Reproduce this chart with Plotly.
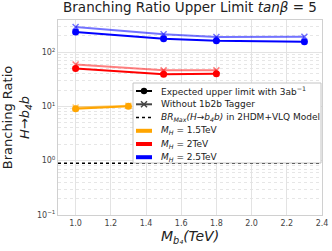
import plotly.graph_objects as go

# Data
x_15 = [1.0, 1.3]
exp_15 = [9.0, 10.0]
wo_15 = [9.5, 10.3]

x_20 = [1.0, 1.5, 1.8]
exp_20 = [50, 39, 40]
wo_20 = [59, 46, 46]

x_25 = [1.0, 1.5, 1.8, 2.3]
exp_25 = [234, 175, 162, 155]
wo_25 = [290, 212, 189, 192]

br_max = 0.9
x_range = [0.9, 2.4]

y_tickvals = [0.1, 1, 10, 100]
y_ticktext = ["10<sup>−1</sup>", "10<sup>0</sup>", "10<sup>1</sup>", "10<sup>2</sup>"]

legend_labels = [
    "Expected upper limit with 3ab<sup>−1</sup>",
    "Without 1b2b Tagger",
    "<i>BR<sub>Max</sub>(H→b<sub>4</sub>b)</i> in 2HDM+VLQ Model",
    "<i>M<sub>H</sub></i> = 1.5TeV",
    "<i>M<sub>H</sub></i> = 2TeV",
    "<i>M<sub>H</sub></i> = 2.5TeV",
]

colors = {"1.5": "#ffa500", "2": "#ff0000", "2.5": "#0000ff"}
faded = {"1.5": "rgba(255,165,0,0.55)", "2": "rgba(255,0,0,0.5)", "2.5": "rgba(0,0,255,0.55)"}

W, H = 332, 251
L, R, T, B = 58, 10, 20, 36
pw, ph = W - L - R, H - T - B


def px(X):
    return (X - L) / pw


def py(Y):
    return (H - B - Y) / ph


fig = go.Figure()

series = [("1.5", x_15, exp_15, wo_15), ("2", x_20, exp_20, wo_20), ("2.5", x_25, exp_25, wo_25)]
for key, xs, e, w in series:
    fig.add_trace(go.Scatter(x=xs, y=w, mode="lines+markers", showlegend=False,
                             line=dict(color=faded[key], width=2),
                             marker=dict(symbol="x-thin", size=6, line=dict(color=faded[key], width=1.5))))
    fig.add_trace(go.Scatter(x=xs, y=e, mode="lines+markers", showlegend=False,
                             line=dict(color=colors[key], width=2),
                             marker=dict(symbol="circle", size=7, color=colors[key])))

fig.add_trace(go.Scatter(x=x_range, y=[br_max, br_max], mode="lines", showlegend=False,
                         line=dict(color="black", width=1.5, dash="dot")))

# Manual legend (layout placement only)
shapes = []
annotations = []
bx0, bx1, by0, by1 = 133, 321, 83, 163
shapes.append(dict(type="rect", xref="paper", yref="paper", x0=px(bx0), x1=px(bx1), y0=py(by1), y1=py(by0),
                   fillcolor="#ffffff", opacity=1, line=dict(color="#c4c4c4", width=1), layer="above"))
rows = [91, 104.3, 117.6, 130.8, 144, 157.2]
sx0, sx1, sxm, tx = 136, 152, 144, 159
for i, (lab, Y) in enumerate(zip(legend_labels, rows)):
    if i == 0:
        shapes.append(dict(type="line", xref="paper", yref="paper", x0=px(sx0), x1=px(sx1), y0=py(Y), y1=py(Y),
                           line=dict(color="black", width=2), layer="above"))
        shapes.append(dict(type="circle", xref="paper", yref="paper", x0=px(sxm - 3.2), x1=px(sxm + 3.2),
                           y0=py(Y + 3.2), y1=py(Y - 3.2), fillcolor="black", line=dict(color="black", width=0),
                           layer="above"))
    elif i == 1:
        shapes.append(dict(type="line", xref="paper", yref="paper", x0=px(sx0), x1=px(sx1), y0=py(Y), y1=py(Y),
                           line=dict(color="#444444", width=2), layer="above"))
        for d in (1, -1):
            shapes.append(dict(type="line", xref="paper", yref="paper", x0=px(sxm - 3), x1=px(sxm + 3),
                               y0=py(Y - 3 * d), y1=py(Y + 3 * d), line=dict(color="#444444", width=1.5),
                               layer="above"))
    elif i == 2:
        shapes.append(dict(type="line", xref="paper", yref="paper", x0=px(sx0), x1=px(sx1), y0=py(Y), y1=py(Y),
                           line=dict(color="black", width=1.5, dash="dot"), layer="above"))
    else:
        c = colors[["1.5", "2", "2.5"][i - 3]]
        shapes.append(dict(type="line", xref="paper", yref="paper", x0=px(sx0), x1=px(sx1), y0=py(Y), y1=py(Y),
                           line=dict(color=c, width=4), layer="above"))
    annotations.append(dict(text=lab, xref="paper", yref="paper", x=px(tx), y=py(Y), xanchor="left",
                            yanchor="middle", showarrow=False, font=dict(size=9, color="#222222")))

fig.update_layout(
    width=W, height=H,
    margin=dict(l=L, r=R, t=T, b=B, autoexpand=False),
    paper_bgcolor="white", plot_bgcolor="white",
    font=dict(family="DejaVu Sans", color="#222"),
    showlegend=False,
    shapes=shapes, annotations=annotations,
    title=dict(text="Branching Ratio Upper Limit <i>tanβ</i> = 5", xref="paper", x=0.5, xanchor="center",
               yref="container", y=1 - 3 / H, yanchor="top", font=dict(size=13.5, color="#222")),
    xaxis=dict(range=x_range, dtick=0.2, tick0=1.0, tickformat=".1f", showgrid=True, gridcolor="#e3e3e3",
               gridwidth=1.2, showline=True, linecolor="#d0d0d0", mirror=True, zeroline=False,
               tickfont=dict(size=8, color="#444"),
               title=dict(text="<i>M<sub>b₄</sub>(TeV)</i>", font=dict(size=14, color="#222"), standoff=2)),
    yaxis=dict(type="log", range=[-1, 2.59], tickvals=y_tickvals, ticktext=y_ticktext, showgrid=True,
               gridcolor="#e3e3e3", gridwidth=1.2, showline=True, linecolor="#d0d0d0", mirror=True,
               tickfont=dict(size=8, color="#444"),
               minor=dict(showgrid=True, gridcolor="#e6e6e6", griddash="dot", gridwidth=1, ticks="", dtick="D1"),
               title=dict(text="Branching Ratio<br><i>H→b<sub>4</sub>b</i>", font=dict(size=13, color="#222"),
                          standoff=4)),
)

fig.write_html("out.html", config={"displayModeBar": False},
               post_script="document.body.style.margin='0';document.body.style.overflow='hidden';")
